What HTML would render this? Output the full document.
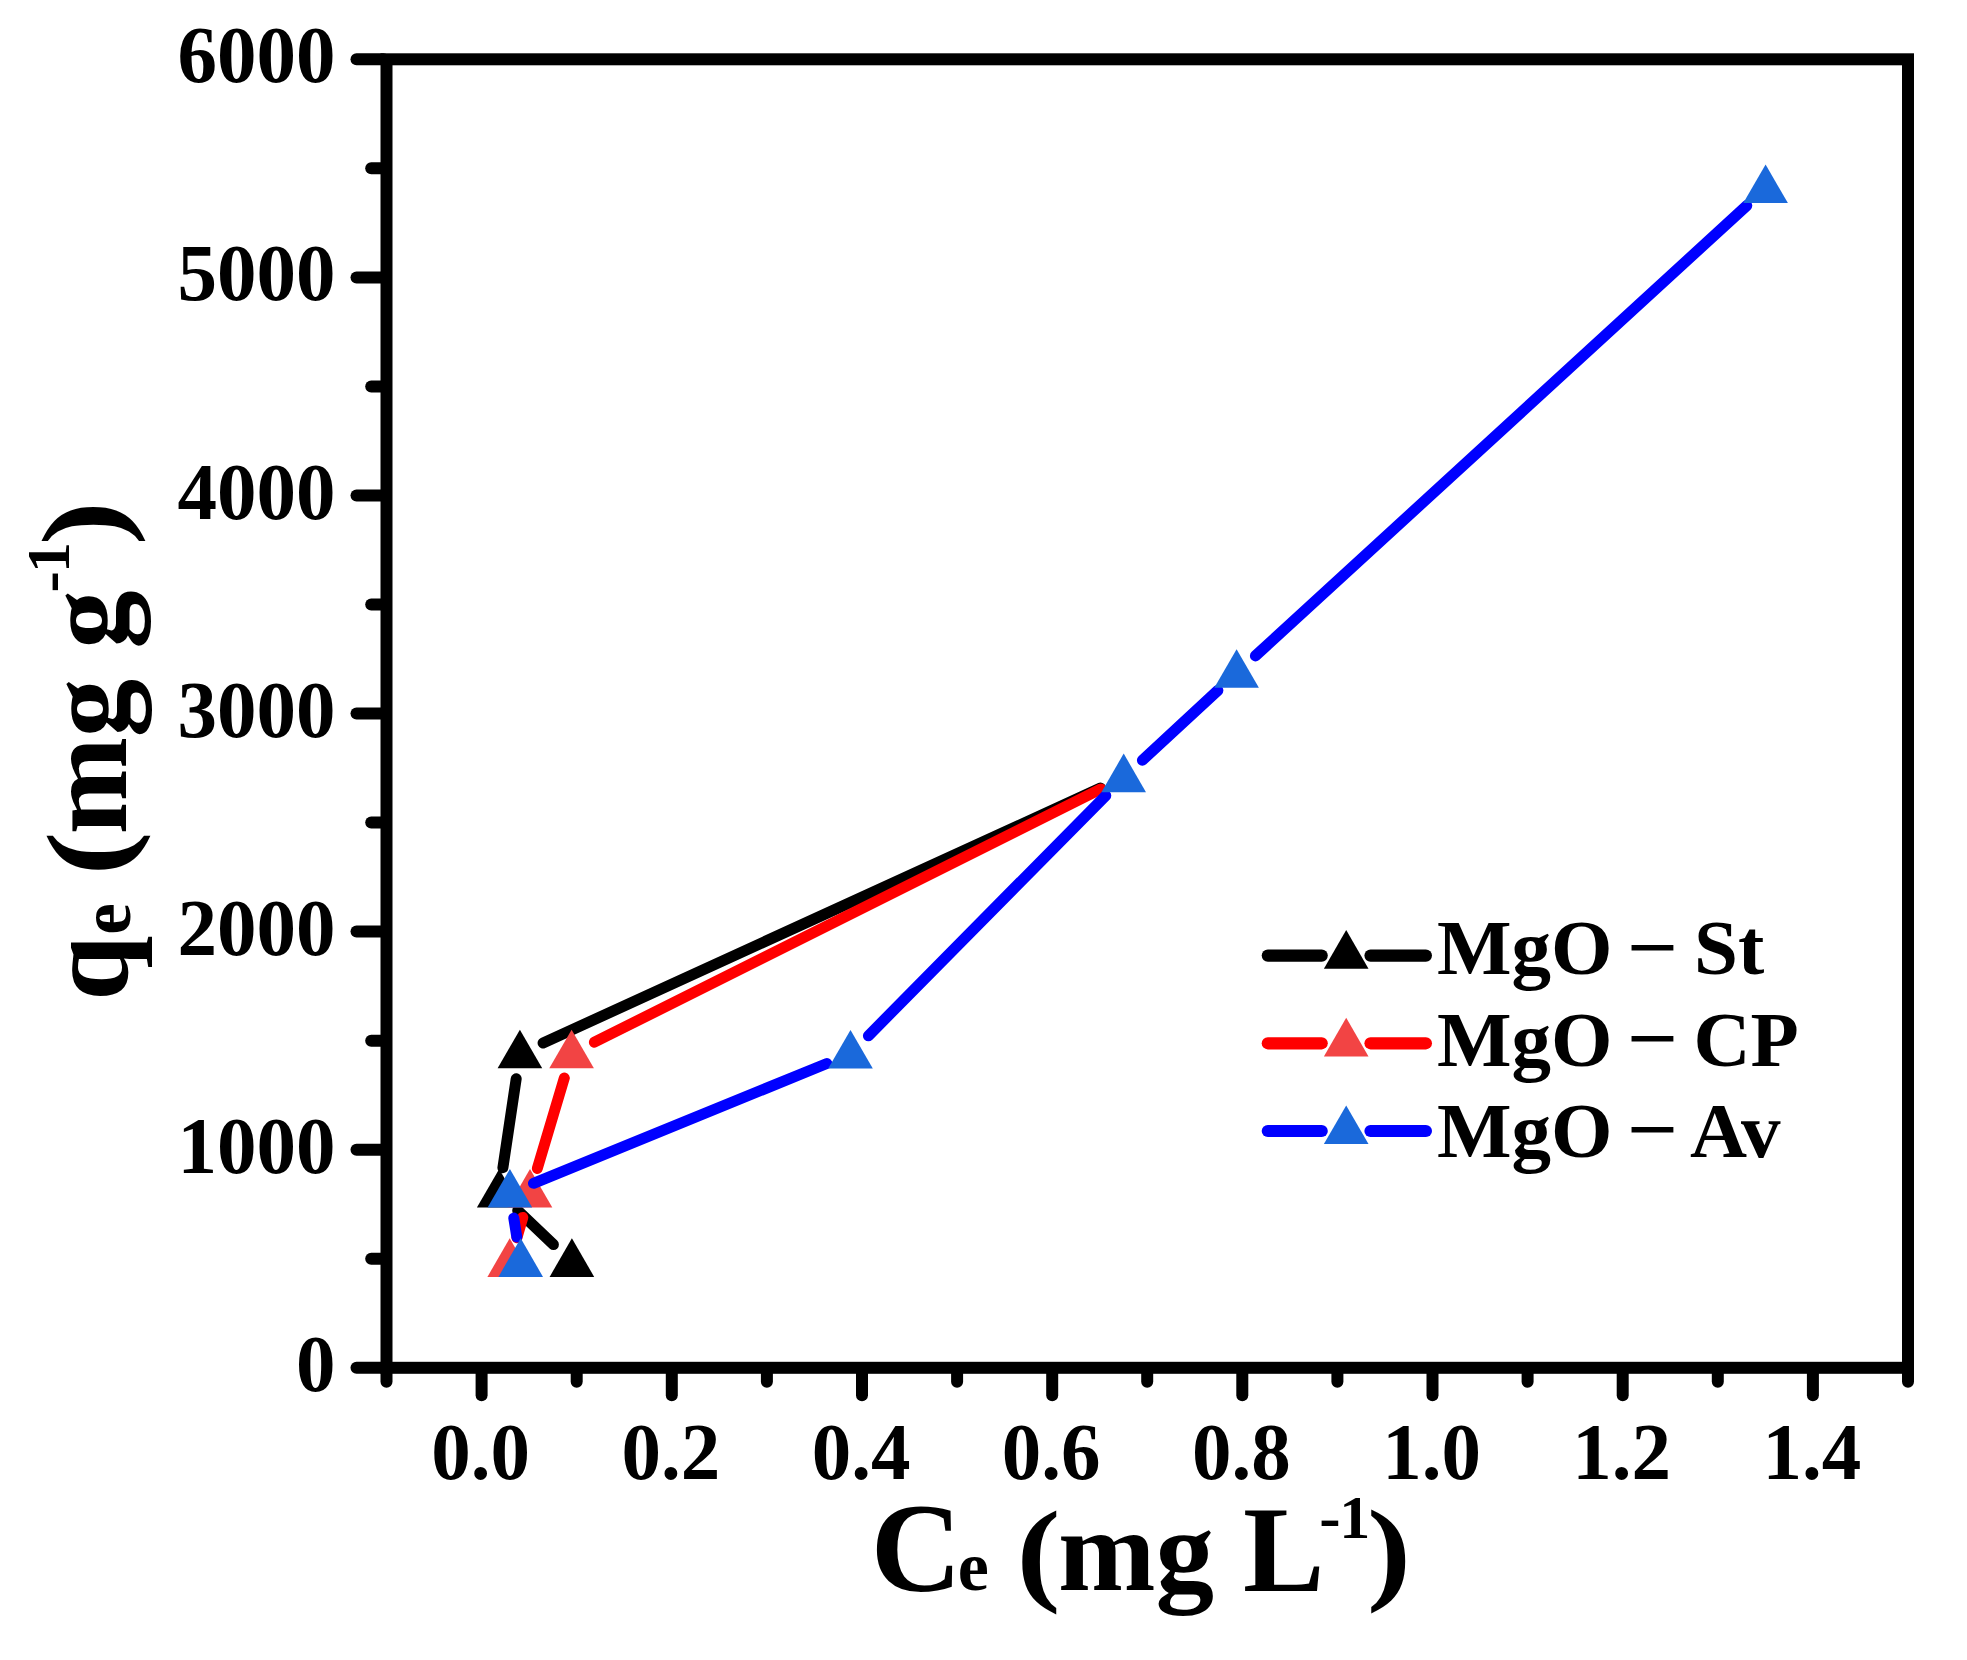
<!DOCTYPE html>
<html lang="en"><head><meta charset="utf-8"><title>qe vs Ce</title>
<style>html,body{margin:0;padding:0;background:#fff}svg{display:block}</style></head>
<body>
<svg width="1967" height="1660" viewBox="0 0 1967 1660">
<rect width="1967" height="1660" fill="#fff"/>
<g stroke="#000" stroke-width="12.0" fill="none" stroke-linecap="round">
<line x1="383.5" y1="1367.8" x2="356.5" y2="1367.8"/>
<line x1="383.5" y1="1258.8" x2="371.2" y2="1258.8"/>
<line x1="383.5" y1="1149.7" x2="356.5" y2="1149.7"/>
<line x1="383.5" y1="1040.7" x2="371.2" y2="1040.7"/>
<line x1="383.5" y1="931.6" x2="356.5" y2="931.6"/>
<line x1="383.5" y1="822.6" x2="371.2" y2="822.6"/>
<line x1="383.5" y1="713.5" x2="356.5" y2="713.5"/>
<line x1="383.5" y1="604.5" x2="371.2" y2="604.5"/>
<line x1="383.5" y1="495.5" x2="356.5" y2="495.5"/>
<line x1="383.5" y1="386.4" x2="371.2" y2="386.4"/>
<line x1="383.5" y1="277.4" x2="356.5" y2="277.4"/>
<line x1="383.5" y1="168.3" x2="371.2" y2="168.3"/>
<line x1="383.5" y1="59.3" x2="356.5" y2="59.3"/>
<line x1="386.5" y1="1370.8" x2="386.5" y2="1381.7"/>
<line x1="481.6" y1="1370.8" x2="481.6" y2="1395.2"/>
<line x1="576.7" y1="1370.8" x2="576.7" y2="1381.7"/>
<line x1="671.8" y1="1370.8" x2="671.8" y2="1395.2"/>
<line x1="766.9" y1="1370.8" x2="766.9" y2="1381.7"/>
<line x1="862.0" y1="1370.8" x2="862.0" y2="1395.2"/>
<line x1="957.1" y1="1370.8" x2="957.1" y2="1381.7"/>
<line x1="1052.2" y1="1370.8" x2="1052.2" y2="1395.2"/>
<line x1="1147.2" y1="1370.8" x2="1147.2" y2="1381.7"/>
<line x1="1242.3" y1="1370.8" x2="1242.3" y2="1395.2"/>
<line x1="1337.4" y1="1370.8" x2="1337.4" y2="1381.7"/>
<line x1="1432.5" y1="1370.8" x2="1432.5" y2="1395.2"/>
<line x1="1527.6" y1="1370.8" x2="1527.6" y2="1381.7"/>
<line x1="1622.7" y1="1370.8" x2="1622.7" y2="1395.2"/>
<line x1="1717.8" y1="1370.8" x2="1717.8" y2="1381.7"/>
<line x1="1812.9" y1="1370.8" x2="1812.9" y2="1395.2"/>
<line x1="1908.0" y1="1370.8" x2="1908.0" y2="1381.7"/>
</g>
<rect x="386.5" y="59.3" width="1521.5" height="1308.5" fill="none" stroke="#000" stroke-width="12.0" stroke-linejoin="miter"/>
<g font-family="'Liberation Serif', serif" font-weight="bold" font-size="79" fill="#000">
<text transform="translate(335.5,1390.8) scale(1,1.03)" text-anchor="end">0</text>
<text transform="translate(335.5,1172.7) scale(1,1.03)" text-anchor="end">1000</text>
<text transform="translate(335.5,954.6) scale(1,1.03)" text-anchor="end">2000</text>
<text transform="translate(335.5,736.5) scale(1,1.03)" text-anchor="end">3000</text>
<text transform="translate(335.5,518.5) scale(1,1.03)" text-anchor="end">4000</text>
<text transform="translate(335.5,300.4) scale(1,1.03)" text-anchor="end">5000</text>
<text transform="translate(335.5,82.3) scale(1,1.03)" text-anchor="end">6000</text>
<text transform="translate(480.6,1479.2) scale(1,1.03)" text-anchor="middle">0.0</text>
<text transform="translate(670.8,1479.2) scale(1,1.03)" text-anchor="middle">0.2</text>
<text transform="translate(861.0,1479.2) scale(1,1.03)" text-anchor="middle">0.4</text>
<text transform="translate(1051.2,1479.2) scale(1,1.03)" text-anchor="middle">0.6</text>
<text transform="translate(1241.3,1479.2) scale(1,1.03)" text-anchor="middle">0.8</text>
<text transform="translate(1431.5,1479.2) scale(1,1.03)" text-anchor="middle">1.0</text>
<text transform="translate(1621.7,1479.2) scale(1,1.03)" text-anchor="middle">1.2</text>
<text transform="translate(1811.9,1479.2) scale(1,1.03)" text-anchor="middle">1.4</text>
</g>
<line x1="553.4" y1="1244.6" x2="517.7" y2="1210.5" stroke="#000" stroke-width="11.0" stroke-linecap="round"/>
<line x1="502.9" y1="1167.7" x2="516.2" y2="1078.8" stroke="#000" stroke-width="11.0" stroke-linecap="round"/>
<line x1="543.1" y1="1043.0" x2="1100.5" y2="788.1" stroke="#000" stroke-width="11.0" stroke-linecap="round"/>
<polygon points="571.9,1238.3 549.6,1276.9 594.2,1276.9" fill="#000"/>
<polygon points="499.2,1169.0 476.9,1207.6 521.5,1207.6" fill="#000"/>
<polygon points="519.9,1029.7 497.6,1068.3 542.2,1068.3" fill="#000"/>
<line x1="516.9" y1="1237.7" x2="522.8" y2="1217.4" stroke="#ff0000" stroke-width="11.0" stroke-linecap="round"/>
<line x1="537.3" y1="1168.5" x2="564.3" y2="1078.0" stroke="#ff0000" stroke-width="11.0" stroke-linecap="round"/>
<line x1="594.4" y1="1042.2" x2="1100.9" y2="788.9" stroke="#ff0000" stroke-width="11.0" stroke-linecap="round"/>
<polygon points="509.7,1238.3 487.4,1276.9 532.0,1276.9" fill="#f24444"/>
<polygon points="530.0,1169.0 507.7,1207.6 552.3,1207.6" fill="#f24444"/>
<polygon points="571.6,1029.7 549.3,1068.3 593.9,1068.3" fill="#f24444"/>
<line x1="516.8" y1="1237.0" x2="513.8" y2="1218.1" stroke="#0000ff" stroke-width="11.0" stroke-linecap="round"/>
<line x1="533.5" y1="1183.3" x2="826.9" y2="1063.5" stroke="#0000ff" stroke-width="11.0" stroke-linecap="round"/>
<line x1="868.4" y1="1035.8" x2="1105.8" y2="795.6" stroke="#0000ff" stroke-width="11.0" stroke-linecap="round"/>
<line x1="1142.4" y1="760.2" x2="1217.9" y2="690.4" stroke="#0000ff" stroke-width="11.0" stroke-linecap="round"/>
<line x1="1255.4" y1="655.9" x2="1746.8" y2="205.6" stroke="#0000ff" stroke-width="11.0" stroke-linecap="round"/>
<polygon points="520.7,1238.3 498.4,1276.9 543.0,1276.9" fill="#1a69db"/>
<polygon points="509.9,1169.0 487.6,1207.6 532.2,1207.6" fill="#1a69db"/>
<polygon points="850.5,1030.0 828.2,1068.6 872.8,1068.6" fill="#1a69db"/>
<polygon points="1123.7,753.6 1101.4,792.2 1146.0,792.2" fill="#1a69db"/>
<polygon points="1236.6,649.2 1214.3,687.8 1258.9,687.8" fill="#1a69db"/>
<polygon points="1765.6,164.5 1743.3,203.1 1787.9,203.1" fill="#1a69db"/>
<line x1="1267.8" y1="955.6" x2="1321.7" y2="955.6" stroke="#000" stroke-width="12.2" stroke-linecap="round"/>
<line x1="1370.5" y1="955.6" x2="1425.9" y2="955.6" stroke="#000" stroke-width="12.2" stroke-linecap="round"/>
<polygon points="1346.2,930.1 1323.9,968.7 1368.5,968.7" fill="#000"/>
<text font-family="'Liberation Serif', serif" font-weight="bold" font-size="79" fill="#000" xml:space="preserve"><tspan x="1437" y="974.2">MgO </tspan><tspan x="1626.7" y="973.7" textLength="51.3" lengthAdjust="spacingAndGlyphs">−</tspan><tspan x="1694.0" y="974.2"> </tspan><tspan x="1694.0" y="974.2">St</tspan></text>
<line x1="1267.8" y1="1043.3" x2="1321.7" y2="1043.3" stroke="#ff0000" stroke-width="12.2" stroke-linecap="round"/>
<line x1="1370.5" y1="1043.3" x2="1425.9" y2="1043.3" stroke="#ff0000" stroke-width="12.2" stroke-linecap="round"/>
<polygon points="1346.2,1017.8 1323.9,1056.4 1368.5,1056.4" fill="#f24444"/>
<text font-family="'Liberation Serif', serif" font-weight="bold" font-size="79" fill="#000" xml:space="preserve"><tspan x="1437" y="1065.5">MgO </tspan><tspan x="1626.7" y="1065.0" textLength="51.3" lengthAdjust="spacingAndGlyphs">−</tspan><tspan x="1693.4" y="1065.5"> </tspan><tspan x="1693.4" y="1065.5">CP</tspan></text>
<line x1="1267.8" y1="1131.0" x2="1321.7" y2="1131.0" stroke="#0000ff" stroke-width="12.2" stroke-linecap="round"/>
<line x1="1370.5" y1="1131.0" x2="1425.9" y2="1131.0" stroke="#0000ff" stroke-width="12.2" stroke-linecap="round"/>
<polygon points="1346.2,1105.5 1323.9,1144.1 1368.5,1144.1" fill="#1a69db"/>
<text font-family="'Liberation Serif', serif" font-weight="bold" font-size="79" fill="#000" xml:space="preserve"><tspan x="1437" y="1156.7">MgO </tspan><tspan x="1626.7" y="1156.2" textLength="51.3" lengthAdjust="spacingAndGlyphs">−</tspan><tspan x="1689.9" y="1156.7"> </tspan><tspan x="1689.9" y="1156.7">Av</tspan></text>
<text font-family="'Liberation Serif', serif" font-weight="bold" fill="#000" xml:space="preserve"><tspan x="870.8" y="1590.6" font-size="126">C</tspan><tspan x="957.8" y="1590.3" font-size="70">e</tspan><tspan x="990.0" y="1590.4" font-size="117"> </tspan><tspan x="1016.4" y="1589.5" font-size="115" textLength="44.0" lengthAdjust="spacingAndGlyphs">(</tspan><tspan x="1058.1" y="1590.3" font-size="117">mg</tspan><tspan x="1215.0" y="1590.4" font-size="117"> </tspan><tspan x="1243.0" y="1590.5" font-size="122">L</tspan><tspan x="1319.3" y="1537.6" font-size="64">-</tspan><tspan x="1339.3" y="1537.6" font-size="62">1</tspan><tspan x="1367.0" y="1589.3" font-size="115" textLength="44.0" lengthAdjust="spacingAndGlyphs">)</tspan></text>
<text transform="rotate(-90)" font-family="'Liberation Serif', serif" font-weight="bold" fill="#000" xml:space="preserve"><tspan x="-1000.8" y="127.0" font-size="117">q</tspan><tspan x="-934.8" y="130.0" font-size="71">e</tspan><tspan x="-900.0" y="127.0" font-size="117"> </tspan><tspan x="-875.4" y="126.2" font-size="115" textLength="44.0" lengthAdjust="spacingAndGlyphs">(</tspan><tspan x="-834.6" y="125.6" font-size="117">mg</tspan><tspan x="-676.0" y="127.0" font-size="117"> </tspan><tspan x="-648.8" y="125.4" font-size="117">g</tspan><tspan x="-592.6" y="69.7" font-size="64">-</tspan><tspan x="-573.0" y="68.8" font-size="62">1</tspan><tspan x="-545.2" y="120.7" font-size="115" textLength="44.0" lengthAdjust="spacingAndGlyphs">)</tspan></text>
</svg>
</body></html>
